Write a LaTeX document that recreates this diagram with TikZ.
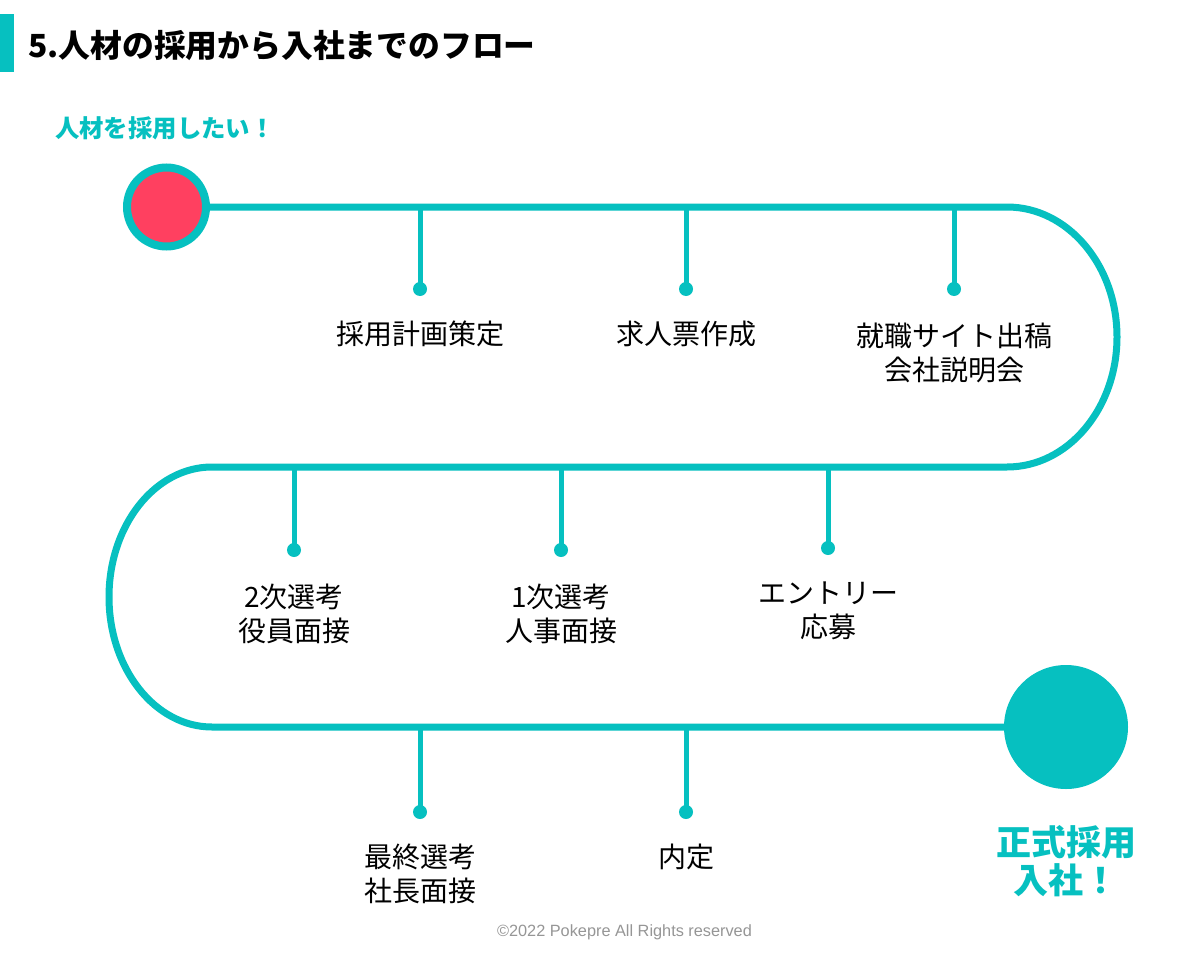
\documentclass[tikz,border=0pt]{standalone}
\usepackage{fontspec}
\newfontfamily\jp{Noto Sans CJK JP}
\newfontfamily\lib{Liberation Sans}
\definecolor{teal1}{RGB}{6,192,192}
\definecolor{red1}{RGB}{255,64,96}
\definecolor{foot}{RGB}{150,150,150}
\begin{document}
\begin{tikzpicture}[x=1pt,y=-1pt,
  mainline/.style={draw=teal1,line width=7pt},
  branch/.style={draw=teal1,line width=5pt},
  dotnode/.style={circle,fill=teal1,inner sep=0pt,minimum size=14pt},
  label/.style={font=\jp\fontsize{28}{34}\selectfont,align=center,inner sep=0pt,text=black},
  accent/.style={font=\jp\bfseries,text=teal1,inner sep=0pt}]
\useasboundingbox[fill=white] (0,0) rectangle (1200,958);
% title
\fill[teal1] (0,14) rectangle (14,72);
\node[font=\jp\bfseries\fontsize{31.8}{36}\selectfont,anchor=west,inner sep=0pt] (title) at (28,46) {5.人材の採用から入社までのフロー};
\node[accent,font=\jp\bfseries\fontsize{24.4}{28}\selectfont,anchor=west] (want) at (55,128) {人材を採用したい！};
% start and goal
\node[circle,fill=red1,draw=teal1,line width=8pt,minimum size=79pt,inner sep=0pt] (start) at (166.5,207) {};
\node[circle,fill=teal1,minimum size=124pt,inner sep=0pt] (goal) at (1066,727) {};
% main path
\coordinate (r1) at (1007,207);
\coordinate (r2) at (1007,467);
\coordinate (l1) at (212,467);
\coordinate (l2) at (212,727);
\draw[mainline] (start.east) -- (r1) arc[start angle=90,end angle=-90,x radius=110pt,y radius=130pt] -- (l1) arc[start angle=90,end angle=270,x radius=103pt,y radius=130pt] -- (goal.west);
% branches top row
\coordinate (t1) at (420,207); \node[dotnode] (d1) at (420,289) {};
\coordinate (t2) at (686,207); \node[dotnode] (d2) at (686,289) {};
\coordinate (t3) at (954,207); \node[dotnode] (d3) at (954,289) {};
% middle row
\coordinate (t4) at (294,467); \node[dotnode] (d4) at (294,550) {};
\coordinate (t5) at (561,467); \node[dotnode] (d5) at (561,550) {};
\coordinate (t6) at (828,467); \node[dotnode] (d6) at (828,548) {};
% bottom row
\coordinate (t7) at (420,727); \node[dotnode] (d7) at (420,812) {};
\coordinate (t8) at (686,727); \node[dotnode] (d8) at (686,812) {};
\foreach \i in {1,...,8} {\draw[branch] (t\i) -- (d\i.center);}
% labels
\node[label] (n1) at (420,334) {採用計画策定};
\node[label] (n2) at (686,334) {求人票作成};
\node[label] (n3) at (954,353) {就職サイト出稿\\会社説明会};
\node[label] (n4) at (294,614) {2次選考\\役員面接};
\node[label] (n5) at (561,614) {1次選考\\人事面接};
\node[label] (n6) at (828,611) {エントリー\\応募};
\node[label] (n7) at (420,874) {最終選考\\社長面接};
\node[label] (n8) at (686,857) {内定};
\node[accent,font=\jp\bfseries\fontsize{35}{38}\selectfont,align=center] (fin) at (1066,861) {正式採用\\入社！};
% footer
\node[font=\lib\fontsize{16.3}{19}\selectfont,text=foot,inner sep=0pt] (copy) at (624.5,932) {©2022 Pokepre All Rights reserved};
\end{tikzpicture}
\end{document}
